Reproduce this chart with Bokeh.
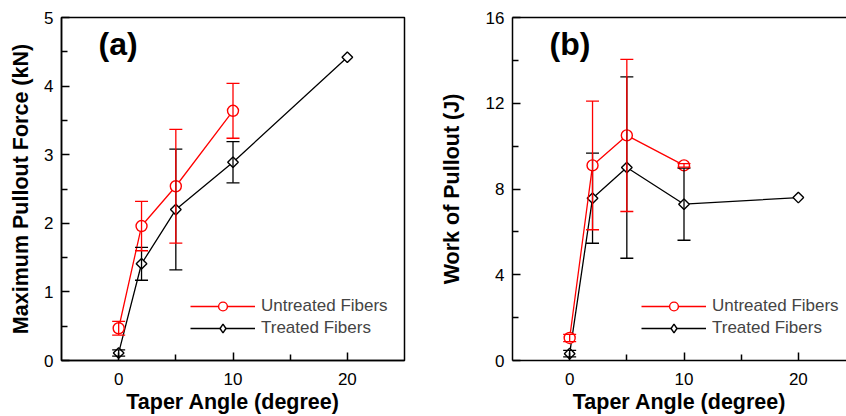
import math
from bokeh.plotting import figure
from bokeh.models import (Range1d, FixedTicker, Whisker, TeeHead, ColumnDataSource,
                          Legend, LegendItem, Label, LinearAxis)
from bokeh.layouts import row
from bokeh.embed import file_html
from bokeh.resources import INLINE

# ---------------- data ----------------
angle_untreated = [0, 2, 5, 10]
angle_treated = [0, 2, 5, 10, 20]

force_untreated = [0.47, 1.96, 2.54, 3.64]
force_untreated_err = [0.10, 0.36, 0.83, 0.40]
force_treated = [0.11, 1.41, 2.20, 2.89, 4.42]
force_treated_err = [0.045, 0.24, 0.88, 0.30, 0.0]

work_untreated = [1.05, 9.10, 10.50, 9.10]
work_untreated_err = [0.17, 3.00, 3.55, 0.08]
work_treated = [0.32, 7.57, 9.00, 7.29, 7.60]
work_treated_err = [0.15, 2.10, 4.23, 1.68, 0.0]

x_ticks = [0, 10, 20]
x_minor = [5, 15]
force_ticks = [0, 1, 2, 3, 4, 5]
force_minor = [0.5, 1.5, 2.5, 3.5, 4.5]
work_ticks = [0, 4, 8, 12, 16]
work_minor = [2, 6, 10, 14]

FONT = "Liberation Sans"
RED = "#ff0000"
BLACK = "#000000"


def style_axis(ax, ticks, minor, label, label_standoff, tick_standoff):
    ax.ticker = FixedTicker(ticks=ticks, minor_ticks=minor)
    ax.axis_label = label
    ax.axis_label_text_font = FONT
    ax.axis_label_text_font_style = "bold"
    ax.axis_label_text_font_size = "21.5px"
    ax.axis_label_text_color = BLACK
    ax.axis_label_standoff = label_standoff
    ax.major_label_standoff = tick_standoff
    ax.major_label_text_font = FONT
    ax.major_label_text_font_size = "17px"
    ax.major_label_text_color = BLACK
    ax.axis_line_width = 1.5
    ax.axis_line_color = BLACK
    ax.major_tick_in = 8
    ax.major_tick_out = 0
    ax.minor_tick_in = 6
    ax.minor_tick_out = 0
    ax.major_tick_line_width = 1.5
    ax.minor_tick_line_width = 1.5
    ax.major_tick_line_color = BLACK
    ax.minor_tick_line_color = BLACK


def add_series(p, xs, ys, errs, color, marker, size, angle, legend_marker):
    src = ColumnDataSource(dict(x=xs, y=ys))
    ln = p.line("x", "y", source=src, line_color=color, line_width=1.3)
    p.scatter("x", "y", source=src, marker=marker, size=size, angle=angle,
              line_color=color, line_width=1.4, fill_color="white")
    ex = [x for x, e in zip(xs, errs) if e > 0]
    up = [y + e for y, e in zip(ys, errs) if e > 0]
    lo = [y - e for y, e in zip(ys, errs) if e > 0]
    esrc = ColumnDataSource(dict(x=ex, upper=up, lower=lo))
    w = Whisker(source=esrc, base="x", upper="upper", lower="lower", dimension="height",
                line_color=color, line_width=1.3, level="glyph",
                upper_head=TeeHead(size=13, line_color=color, line_width=1.3),
                lower_head=TeeHead(size=13, line_color=color, line_width=1.3))
    p.add_layout(w)
    # legend-only marker: zero-size points on the same data (the legend sizes its own swatch)
    leg = p.scatter("x", "y", source=src, size=0, marker=legend_marker,
                    line_color=color, line_width=1.4, fill_color="white")
    return ln, leg


def make_panel(width, x_end, y_end, yt, ym, ylabel, ystandoff, tag,
               yu, yu_err, yt_vals, yt_err, border_left, border_right, full_outline):
    p = figure(width=width, height=416, x_range=Range1d(-5, x_end), y_range=Range1d(0, y_end),
               output_backend="svg", toolbar_location=None,
               min_border_left=border_left, min_border_right=border_right,
               min_border_top=17, min_border_bottom=56)
    p.xgrid.visible = False
    p.ygrid.visible = False
    p.background_fill_color = "white"
    p.border_fill_color = "white"
    if full_outline:
        p.outline_line_color = BLACK
        p.outline_line_width = 1.5
    else:
        p.outline_line_color = None
        top = LinearAxis(ticker=FixedTicker(ticks=[]), major_label_text_font_size="0px",
                         major_label_standoff=0, axis_line_width=1.5, axis_line_color=BLACK,
                         major_tick_in=0, major_tick_out=0, minor_tick_in=0, minor_tick_out=0)
        p.add_layout(top, "above")
    style_axis(p.below[0], x_ticks, x_minor, "Taper Angle (degree)", 2, 12)
    style_axis(p.left[0], yt, ym, ylabel, ystandoff, 8)

    lt, dt = add_series(p, angle_treated, yt_vals, yt_err, BLACK, "square", 7.5, math.pi / 4, "diamond")
    lu, du = add_series(p, angle_untreated, yu, yu_err, RED, "circle", 11, 0, "circle")

    legend = Legend(items=[LegendItem(label="Untreated Fibers", renderers=[lu, du]),
                           LegendItem(label="Treated Fibers", renderers=[lt, dt])],
                    location=(129, 21), glyph_width=65, glyph_height=22, label_height=21,
                    spacing=0, padding=0, margin=0, border_line_color=None,
                    background_fill_alpha=0, label_text_font=FONT,
                    label_text_font_size="17px", label_standoff=6)
    p.add_layout(legend)

    p.add_layout(Label(x=37, y=317, x_units="screen", y_units="screen", text=tag,
                       text_font=FONT, text_font_style="bold", text_font_size="32px",
                       text_color=BLACK, text_baseline="alphabetic"))
    return p


pa = make_panel(423, 25, 5, force_ticks, force_minor, "Maximum Pullout Force (kN)", 8, "(a)",
                force_untreated, force_untreated_err, force_treated, force_treated_err,
                61, 19, True)
pb = make_panel(423, -5 + 334 * 30 / 343, 16, work_ticks, work_minor, "Work of Pullout (J)", 19, "(b)",
                work_untreated, work_untreated_err, work_treated, work_treated_err,
                89, 0, False)

layout = row(pa, pb)
open("out.html", "w").write(file_html(layout, INLINE))
